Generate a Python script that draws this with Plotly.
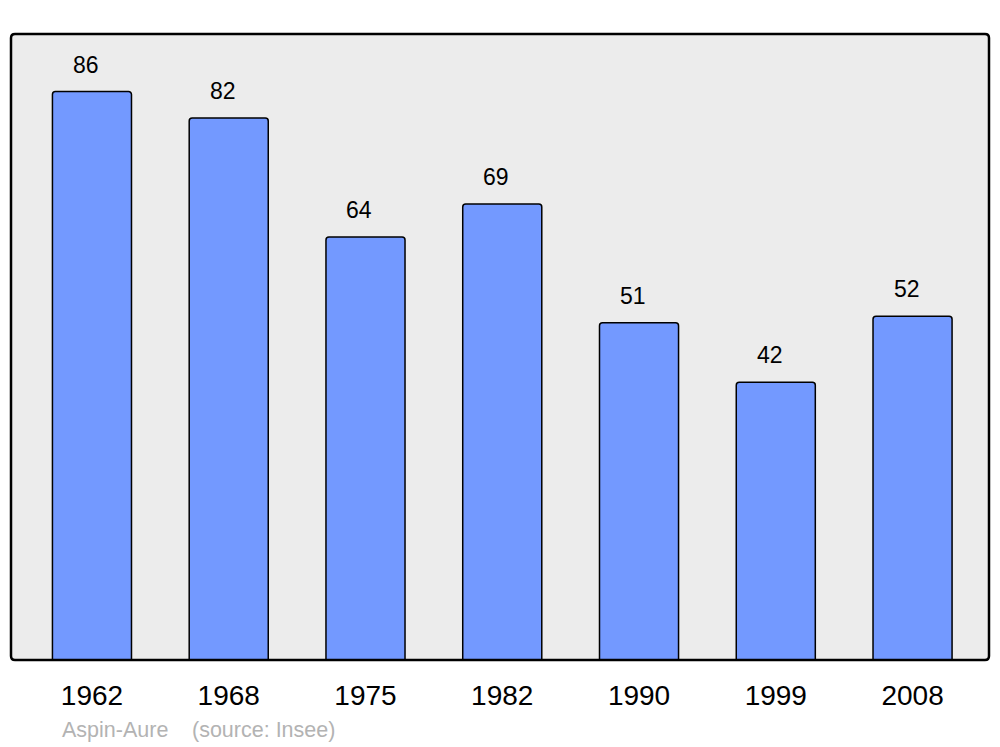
import plotly.graph_objects as go

years = ["1962", "1968", "1975", "1982", "1990", "1999", "2008"]
population = [86, 82, 64, 69, 51, 42, 52]
commune = "Aspin-Aure"
source = "(source: Insee)"

idx = list(range(len(years)))

fig = go.Figure()
fig.add_trace(go.Bar(
    x=idx, y=population, width=0.578,
    marker=dict(color="#7399ff", line=dict(color="#000000", width=1.5)),
    hoverinfo="skip",
))

for i, v in zip(idx, population):
    fig.add_annotation(x=i, y=v, text=str(v), showarrow=False,
                       xanchor="center", yanchor="bottom", xshift=-6, yshift=12,
                       font=dict(family="Liberation Sans, Arial", size=23, color="#000"))

foot_font = dict(family="Liberation Sans, Arial", size=21.5, color="#b3b3b3")
fig.add_annotation(xref="paper", yref="paper", x=(60-11)/978, y=-(730-660)/626,
                   text=commune, showarrow=False, xanchor="left", yanchor="middle",
                   font=foot_font)
fig.add_annotation(xref="paper", yref="paper", x=(190-11)/978, y=-(730-660)/626,
                   text=source, showarrow=False, xanchor="left", yanchor="middle",
                   font=foot_font)

# rounded frame
r = 4
x0, x1, y0, y1 = 11, 989, 34, 660
def px(x): return (x - 11) / 978
def py(y): return (660 - y) / 626
path = (f"M {px(x0+r)},{py(y0)} L {px(x1-r)},{py(y0)} Q {px(x1)},{py(y0)} {px(x1)},{py(y0+r)} "
        f"L {px(x1)},{py(y1-r)} Q {px(x1)},{py(y1)} {px(x1-r)},{py(y1)} "
        f"L {px(x0+r)},{py(y1)} Q {px(x0)},{py(y1)} {px(x0)},{py(y1-r)} "
        f"L {px(x0)},{py(y0+r)} Q {px(x0)},{py(y0)} {px(x0+r)},{py(y0)} Z")
fig.add_shape(type="path", xref="paper", yref="paper", path=path,
              line=dict(color="#000", width=2.5), layer="above")

fig.update_layout(
    width=1000, height=747,
    margin=dict(l=3, r=19, t=26, b=95),
    paper_bgcolor="#ffffff", plot_bgcolor="#ececec",
    barcornerradius=3,
    showlegend=False,
    xaxis=dict(range=[-0.592, 6.559], showgrid=False, zeroline=False,
               showline=False, ticks="", ticklabelstandoff=16,
               tickmode="array", tickvals=idx, ticktext=years,
               tickfont=dict(family="Liberation Sans, Arial", size=28, color="#000")),
    yaxis=dict(range=[0, 94.7], showgrid=False, zeroline=False, showticklabels=False,
               showline=False),
)

fig.write_html("out.html")
